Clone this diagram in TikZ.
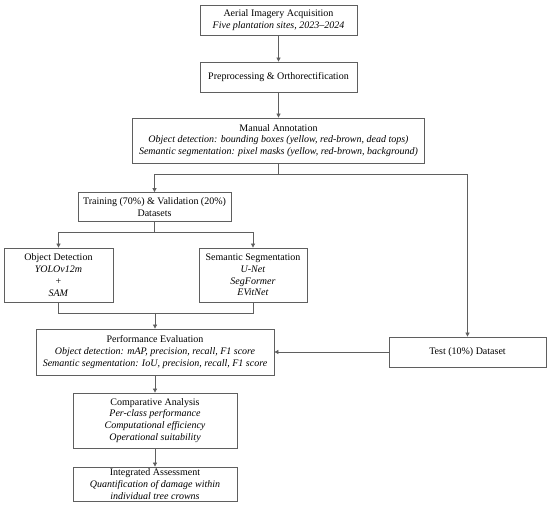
\documentclass[tikz,border=0pt]{standalone}
\usepackage{fontspec}
\setmainfont{Liberation Serif}
\usetikzlibrary{arrows.meta}
\definecolor{linegray}{RGB}{95,95,95}
\begin{document}
\begin{tikzpicture}[x=1pt,y=-1pt,
  box/.style={draw=linegray,line width=0.8pt,fill=white,inner sep=0pt,align=center,
    font=\fontsize{10}{11.8}\selectfont,text=black},
  conn/.style={draw=linegray,line width=0.8pt},
  arr/.style={conn,-{Triangle[length=4pt,width=4pt]}}]
\useasboundingbox (0,0) rectangle (550,513);
\node[box,minimum width=157pt,minimum height=30pt] (b1) at (278.5,20) {Aerial Imagery Acquisition\\\textit{Five plantation sites, 2023--2024}};
\node[box,minimum width=157pt,minimum height=30pt] (b2) at (278.5,77) {Preprocessing \& Orthorectification};
\node[box,minimum width=292pt,minimum height=45pt] (b3) at (278.5,140.5) {Manual Annotation\\\textit{Object detection: bounding boxes (yellow, red-brown, dead tops)}\\\textit{Semantic segmentation: pixel masks (yellow, red-brown, background)}};
\node[box,minimum width=153pt,minimum height=29pt] (b4) at (154.5,207) {Training (70\%) \& Validation (20\%)\\Datasets};
\node[box,minimum width=109pt,minimum height=54pt] (od) at (58.5,275) {Object Detection\\\textit{YOLOv12m}\\+\\\textit{SAM}};
\node[box,minimum width=108pt,minimum height=54pt] (ss) at (253,275) {Semantic Segmentation\\\textit{U-Net}\\\textit{SegFormer}\\\textit{EVitNet}};
\node[box,minimum width=238pt,minimum height=46pt] (pe) at (155,352) {Performance Evaluation\\\textit{Object detection: mAP, precision, recall, F1 score}\\\textit{Semantic segmentation: IoU, precision, recall, F1 score}};
\node[box,minimum width=157pt,minimum height=30pt] (te) at (467.5,352) {Test (10\%) Dataset};
\node[box,minimum width=164pt,minimum height=55pt] (ca) at (155,420.5) {Comparative Analysis\\\textit{Per-class performance}\\\textit{Computational efficiency}\\\textit{Operational suitability}};
\node[box,minimum width=164pt,minimum height=34pt] (ia) at (155,484) {Integrated Assessment\\\textit{Quantification of damage within}\\\textit{individual tree crowns}};
\coordinate (s1) at (278.5,174);
\coordinate (s1l) at (154.5,174);
\coordinate (s1r) at (467.5,174);
\coordinate (s2) at (154.5,232);
\coordinate (s2l) at (58.5,232);
\coordinate (s2r) at (253,232);
\coordinate (m1) at (58.5,313);
\coordinate (m2) at (253,313);
\coordinate (m) at (155,313);
\draw[arr] (b1) -- (b2);
\draw[arr] (b2) -- (b3);
\draw[conn] (b3.south) -- (s1);
\draw[arr] (s1) -- (s1l) -- (b4.north);
\draw[arr] (s1) -- (s1r) -- (te.north);
\draw[conn] (b4.south) -- (s2);
\draw[arr] (s2) -- (s2l) -- (od.north);
\draw[arr] (s2) -- (s2r) -- (ss.north);
\draw[conn] (od.south) -- (m1) -- (m2) -- (ss.south);
\draw[arr] (m) -- (pe.north);
\draw[arr] (te.west) -- (pe.east);
\draw[arr] (pe) -- (ca);
\draw[arr] (ca) -- (ia);
\end{tikzpicture}
\end{document}
